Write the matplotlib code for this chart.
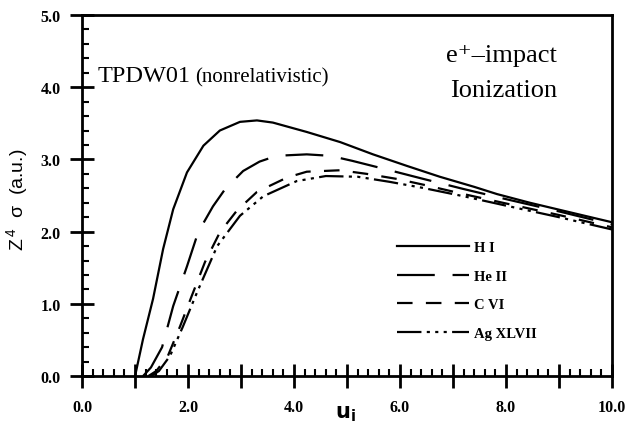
import numpy as np
import matplotlib
matplotlib.use("Agg")
import matplotlib.pyplot as plt
from matplotlib.ticker import MultipleLocator, FuncFormatter

# 読み取った値 (u_i, Z^4 sigma)
u_h = [1.0, 1.15, 1.34, 1.53, 1.72, 1.98, 2.29, 2.6, 2.98, 3.3, 3.6, 4.24, 4.87, 5.49, 6.13, 6.75, 7.4, 7.83, 8.45, 9.08, 10.0]
s_h = [0.0, 0.51, 1.07, 1.76, 2.31, 2.82, 3.19, 3.40, 3.52, 3.54, 3.51, 3.38, 3.24, 3.07, 2.91, 2.76, 2.62, 2.52, 2.40, 2.29, 2.13]

u_he = [1.15, 1.3, 1.51, 1.72, 1.98, 2.19, 2.47, 2.7, 3.04, 3.35, 3.67, 4.24, 4.68, 5.1, 5.75, 6.44, 7.2, 8.0, 9.0, 10.0]
s_he = [0.0, 0.12, 0.40, 0.97, 1.52, 1.99, 2.35, 2.59, 2.84, 2.97, 3.05, 3.07, 3.05, 2.98, 2.86, 2.73, 2.59, 2.45, 2.28, 2.10]

u_c = [1.25, 1.4, 1.62, 1.85, 2.07, 2.32, 2.6, 2.92, 3.3, 3.87, 4.24, 4.87, 5.37, 5.94, 6.44, 7.2, 8.0, 9.0, 10.0]
s_c = [0.0, 0.07, 0.28, 0.69, 1.11, 1.58, 1.99, 2.29, 2.55, 2.75, 2.83, 2.85, 2.80, 2.73, 2.65, 2.52, 2.39, 2.23, 2.06]

u_ag = [1.3, 1.45, 1.66, 1.9, 2.17, 2.55, 2.98, 3.42, 4.05, 4.6, 5.2, 5.8, 6.4, 7.2, 8.0, 9.0, 10.0]
s_ag = [0.0, 0.07, 0.28, 0.68, 1.16, 1.80, 2.22, 2.49, 2.70, 2.77, 2.76, 2.69, 2.61, 2.49, 2.36, 2.20, 2.03]

labels = ["H I", "He II", "C VI", "Ag XLVII"]

plt.rcParams['font.family'] = ['Liberation Serif', 'DejaVu Serif']

fig = plt.figure(figsize=(6.31, 4.31), dpi=100)
ax = fig.add_axes([0.130, 0.125, 0.840, 0.838])

lw = 1.6
ax.plot(u_h, s_h, color='black', lw=lw, label=labels[0])
ax.plot(u_he, s_he, color='black', lw=lw, dashes=(17, 8), label=labels[1])
ax.plot(u_c, s_c, color='black', lw=lw, dashes=(7, 6), label=labels[2])
ax.plot(u_ag, s_ag, color='black', lw=lw, dashes=(11, 2.4, 1.4, 2.4, 1.4, 2.4, 1.4, 2.4), label=labels[3])

ax.set_xlim(0, 10)
ax.set_ylim(0, 5)
ax.xaxis.set_major_locator(MultipleLocator(1.0))
ax.xaxis.set_minor_locator(MultipleLocator(0.2))
ax.yaxis.set_major_locator(MultipleLocator(1.0))
ax.yaxis.set_minor_locator(MultipleLocator(0.2))
# x軸は2おきにだけラベル
ax.xaxis.set_major_formatter(FuncFormatter(lambda v, p: "%.1f" % v if int(round(v)) % 2 == 0 else ""))
ax.yaxis.set_major_formatter(FuncFormatter(lambda v, p: "%.1f" % v))
ax.tick_params(which='major', direction='inout', length=17, width=2, labelsize=11.5)
ax.tick_params(which='minor', direction='in', length=5, width=1.5)
ax.tick_params(axis='x', which='major', pad=8)
ax.tick_params(axis='y', which='major', pad=7)
for t in ax.get_xticklabels() + ax.get_yticklabels():
    t.set_fontweight('semibold')
for sp in ax.spines.values():
    sp.set_linewidth(2)

ax.set_xlabel(r"$\mathbf{u}_{\mathbf{i}}$", fontsize=15)
ax.xaxis.set_label_coords(0.497, -0.075)
ax.set_ylabel(r"$\mathregular{Z^{\,4}}$  σ  (a.u.)", fontsize=14, family=['Liberation Sans', 'DejaVu Sans'])
ax.yaxis.set_label_coords(-0.098, 0.49)

ax.text(0.030, 0.817, "TPDW01", transform=ax.transAxes, fontsize=17.5)
ax.text(0.213, 0.817, "(nonrelativistic)", transform=ax.transAxes, fontsize=15)
ax.text(0.896, 0.873, "e\u207a–impact", transform=ax.transAxes, fontsize=19, ha='right')
ax.text(0.896, 0.776, "Ionization", transform=ax.transAxes, fontsize=19, ha='right')

ax.legend(loc='upper left', bbox_to_anchor=(0.57, 0.41), frameon=False,
          handlelength=4.9, handletextpad=0.35, labelspacing=1.05,
          prop={'weight': 'bold', 'size': 10.5})

fig.savefig("out.png", dpi=100)
